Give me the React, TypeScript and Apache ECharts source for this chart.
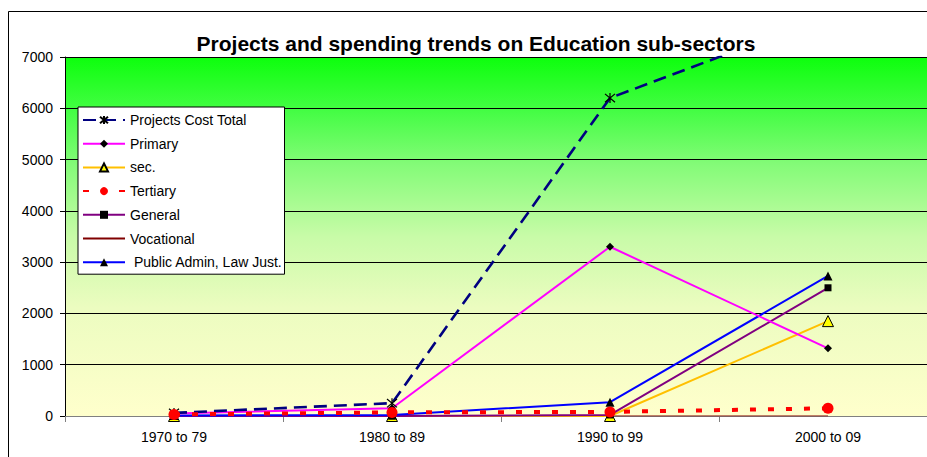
import React, { useEffect, useRef } from "react";
import * as echarts from "echarts";

const categories = ["1970 to 79", "1980 to 89", "1990 to 99", "2000 to 09"];
const projectsCostTotal = [60, 250, 6200, 7800];
const primary = [50, 150, 3300, 1320];
const secondary = [0, 0, 0, 1850];
const tertiary = [30, 70, 80, 150];
const general = [0, 0, 20, 2500];
const vocational = [0, 0, 0, 0];
const publicAdmin = [10, 20, 270, 2730];
const yTicks = { min: 0, max: 7000, interval: 1000 };

const starPath = "path://M0,0L10,10M10,0L0,10M5,-1L5,11";

export default function App() {
  const ref = useRef<HTMLDivElement>(null);
  useEffect(() => {
    if (!ref.current) return;
    const chart = echarts.init(ref.current, null, { renderer: "svg" });
    const font = "Liberation Sans, Arial, sans-serif";
    chart.setOption({
      animation: false,
      textStyle: { fontFamily: font },
      title: {
        text: "Projects and spending trends on Education sub-sectors",
        left: 471,
        textAlign: "center",
        top: 28,
        textStyle: { fontSize: 21, fontWeight: "bold", color: "#000", fontFamily: font },
      },
      graphic: [
        {
          type: "rect",
          shape: { x: 8.5, y: 11.5, width: 1000, height: 1000 },
          style: { fill: "none", stroke: "#000", lineWidth: 1 },
          z: -10,
          silent: true,
        },
      ],
      grid: {
        left: 65,
        top: 57,
        width: 872,
        height: 359,
        outerBoundsMode: "none",
        containLabel: false,
        show: true,
        borderWidth: 0,
        backgroundColor: new echarts.graphic.LinearGradient(0, 0, 0, 1, [
          { offset: 0, color: "#0dff0d" },
          { offset: 0.15, color: "#44fd44" },
          { offset: 0.3, color: "#84fb78" },
          { offset: 0.5, color: "#c8fba8" },
          { offset: 0.7, color: "#ecfcc0" },
          { offset: 1, color: "#ffffcc" },
        ]),
      },
      legend: {
        orient: "vertical",
        left: 78,
        top: 107,
        backgroundColor: "#fff",
        borderColor: "#000",
        borderWidth: 1,
        borderRadius: 0,
        padding: [5, 2, 4, 4],
        itemWidth: 42,
        itemHeight: 10,
        itemGap: 7.7,
        textStyle: { fontSize: 14, lineHeight: 16, color: "#000", fontFamily: font },
        data: [
          "Projects Cost Total",
          "Primary",
          "sec.",
          "Tertiary",
          "General",
          { name: "Vocational", itemStyle: { color: "rgba(0,0,0,0)", borderWidth: 0 } },
          " Public Admin, Law Just.",
        ],
      },
      xAxis: {
        type: "category",
        data: categories,
        boundaryGap: true,
        axisLine: { lineStyle: { color: "#808080", width: 1 } },
        axisTick: { show: true, length: 6, lineStyle: { color: "#808080" } },
        axisLabel: { color: "#000", fontSize: 14, margin: 14, fontFamily: font },
        splitLine: { show: false },
      },
      yAxis: {
        type: "value",
        min: yTicks.min,
        max: yTicks.max,
        interval: yTicks.interval,
        axisLine: { show: true, lineStyle: { color: "#000", width: 1 } },
        axisTick: { show: true, length: 5, lineStyle: { color: "#000" } },
        axisLabel: {
          color: "#000",
          fontSize: 14,
          margin: 12,
          fontFamily: font,
          formatter: (v: number) => String(v),
        },
        splitLine: { show: true, lineStyle: { color: "#000", width: 1 } },
      },
      series: [
        {
          name: "Projects Cost Total",
          type: "line",
          data: projectsCostTotal,
          clip: true,
          symbol: starPath,
          symbolSize: 10,
          showAllSymbol: true,
          lineStyle: { color: "#000080", width: 2.6, type: [13, 7] },
          itemStyle: { color: "#000080", borderColor: "#000", borderWidth: 1.2 },
          z: 5,
        },
        {
          name: "Primary",
          type: "line",
          data: primary,
          symbol: "diamond",
          symbolSize: 8,
          lineStyle: { color: "#ff00ff", width: 2 },
          itemStyle: { color: "#000", borderWidth: 0 },
          z: 4,
        },
        {
          name: "sec.",
          type: "line",
          data: secondary,
          symbol: "triangle",
          symbolSize: 11,
          lineStyle: { color: "#ffc000", width: 2 },
          itemStyle: { color: "#ffff00", borderColor: "#000", borderWidth: 1 },
          z: 3,
        },
        {
          name: "Tertiary",
          type: "line",
          data: tertiary,
          symbol: "circle",
          symbolSize: 11,
          lineStyle: { color: "#ff0000", width: 4, type: [6, 12] },
          itemStyle: { color: "#ff0000", borderWidth: 0 },
          z: 6,
        },
        {
          name: "General",
          type: "line",
          data: general,
          symbol: "rect",
          symbolSize: 7,
          lineStyle: { color: "#800080", width: 2 },
          itemStyle: { color: "#000", borderWidth: 0 },
          z: 3,
        },
        {
          name: "Vocational",
          type: "line",
          data: vocational,
          symbol: "none",
          lineStyle: { color: "#800000", width: 1 },
          itemStyle: { color: "#800000" },
          z: 2,
        },
        {
          name: " Public Admin, Law Just.",
          type: "line",
          data: publicAdmin,
          symbol: "triangle",
          symbolSize: 9,
          lineStyle: { color: "#0000ff", width: 2 },
          itemStyle: { color: "#000", borderWidth: 0 },
          z: 3,
        },
      ],
    });
    return () => chart.dispose();
  }, []);
  return (
    <div
      ref={ref}
      style={{ position: "fixed", left: 0, top: 0, width: 927, height: 457, background: "#fff" }}
    />
  );
}
